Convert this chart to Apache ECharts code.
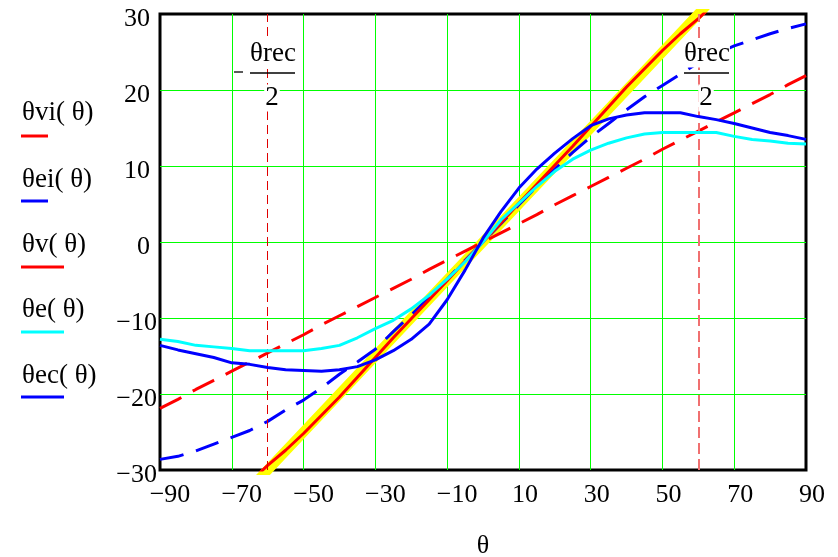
<!DOCTYPE html>
<html><head><meta charset="utf-8">
<style>html,body{margin:0;padding:0;background:#fff}#c{width:838px;height:557px}</style>
<script src="https://cdn.jsdelivr.net/npm/echarts@6.0.0/dist/echarts.min.js"></script>
</head><body><div id="c"></div>
<script>
// ---- data ----
const theta = [-90,-85,-80,-75,-70,-65,-60,-55,-50,-45,-40,-35,-30,-25,-20,-15,-10,-5,0,5,10,15,20,25,30,35,40,45,50,55,60,65,70,75,80,85,90];
const thetaVI = [-21.9,-20.7,-19.4,-18.2,-17.0,-15.8,-14.6,-13.4,-12.2,-10.9,-9.7,-8.5,-7.3,-6.1,-4.9,-3.6,-2.4,-1.2,0,1.2,2.4,3.6,4.9,6.1,7.3,8.5,9.7,10.9,12.2,13.4,14.6,15.8,17.0,18.2,19.4,20.7,21.9];
const thetaEI = [-28.6,-28.2,-27.5,-26.6,-25.7,-24.8,-23.6,-22.1,-20.8,-19.2,-17.4,-15.8,-14.1,-11.8,-9.6,-7.3,-4.9,-2.4,0,2.4,4.9,7.3,9.6,11.8,13.8,15.6,17.4,19.1,20.6,22.1,23.6,24.8,25.8,26.6,27.4,28.1,28.7];
const thetaE = [-12.8,-13.1,-13.6,-13.8,-14.0,-14.3,-14.3,-14.3,-14.3,-14.0,-13.6,-12.6,-11.4,-10.3,-8.8,-7.0,-4.9,-2.6,0,2.9,5.1,7.3,9.3,10.9,12.1,13.0,13.7,14.2,14.4,14.4,14.4,14.4,13.9,13.5,13.3,13.0,12.9];
const thetaEC = [-13.6,-14.2,-14.7,-15.2,-15.9,-16.1,-16.5,-16.8,-16.9,-17.0,-16.8,-16.4,-15.5,-14.3,-12.8,-10.8,-7.6,-3.7,0.5,4.0,7.1,9.6,11.7,13.6,15.3,16.2,16.7,17.0,17.0,17.0,16.5,16.1,15.6,15.0,14.4,14.0,13.5];
const thetaMid = [-65,-60,-55,-50,-45,-40,-35,-30,-25,-20,-15,-10,-5,0,5,10,15,20,25,30,35,40,45,50,55,60,65];
const thetaV = [-31.6,-29.4,-27.4,-25.2,-22.8,-20.4,-17.8,-15.2,-12.6,-10.1,-7.6,-5.1,-2.5,0,2.5,5.1,7.6,10.1,12.6,15.2,17.8,20.4,22.8,25.2,27.4,29.4,31.6];
const thetaRef = [-32.5,-30,-27.5,-25,-22.5,-20,-17.5,-15,-12.5,-10,-7.5,-5,-2.5,0,2.5,5,7.5,10,12.5,15,17.5,20,22.5,25,27.5,30,32.5];
const recHalf = [-60, 60];
const xTicks = [-90,-70,-50,-30,-10,10,30,50,70,90];
const yTicks = [-30,-20,-10,0,10,20,30];
const legendNames = ['θvi( θ)','θei( θ)','θv( θ)','θe( θ)','θec( θ)'];

// ---- chart ----
const FONT = '"Liberation Serif", "Times New Roman", serif';
const pair = (xs, ys) => xs.map((x, i) => [x, ys[i]]);
const minus = v => String(v).replace('-', '\u2212');
const chart = echarts.init(document.getElementById('c'), null, {renderer: 'canvas'});

const legendColors = ['#ff0000', '#0000ff', '#ff0000', '#00ffff', '#0000ff'];
const legendTextY = [113, 180, 245, 310, 376];
const legendLineY = [136, 201, 267, 332, 397];
const legendLineEnd = [48, 48, 64, 64, 64];
const graphics = [];
legendNames.forEach((n, i) => {
  graphics.push({type: 'text', x: 22, y: legendTextY[i], z: 10,
    style: {text: n, font: '27px ' + FONT, fill: '#000', verticalAlign: 'middle'}});
  graphics.push({type: 'line', z: 10, shape: {x1: 21, y1: legendLineY[i], x2: legendLineEnd[i], y2: legendLineY[i]},
    style: {stroke: legendColors[i], lineWidth: 3}});
});
// theta_rec / 2 annotations
function frac(cx, withMinus) {
  graphics.push({type: 'text', z: 10, x: cx, y: 54,
    style: {text: 'θrec', font: '27px ' + FONT, fill: '#000', align: 'center', verticalAlign: 'middle', backgroundColor: '#fff'}});
  graphics.push({type: 'line', z: 11, shape: {x1: cx - 23, y1: 73, x2: cx + 22, y2: 73}, style: {stroke: '#000', lineWidth: 1.3}});
  graphics.push({type: 'text', z: 10, x: cx - 1, y: 98,
    style: {text: '2', font: '27px ' + FONT, fill: '#000', align: 'center', verticalAlign: 'middle', backgroundColor: '#fff', padding: [0, 1]}});
  if (withMinus) graphics.push({type: 'line', z: 11, shape: {x1: 234, y1: 72, x2: 243, y2: 72}, style: {stroke: '#000', lineWidth: 1.3}});
}
frac(273, true);
frac(707, false);

const axisFont = {fontFamily: FONT, fontSize: 26, color: '#000'};
const option = {
  animation: false,
  backgroundColor: '#fff',
  grid: {left: 160, right: 32, top: 14, bottom: 87, show: true, borderColor: '#000', borderWidth: 3,
    containLabel: false, outerBoundsMode: 'none'},
  xAxis: {
    type: 'value', min: xTicks[0], max: xTicks[xTicks.length - 1], interval: 20,
    axisLine: {show: false}, axisTick: {show: false},
    splitLine: {show: true, showMinLine: false, showMaxLine: false, lineStyle: {color: '#00ff00', width: 1}},
    axisLabel: {margin: 12, formatter: v => v < 0 ? '{n|' + minus(v) + '}' : '{p|' + v + '}',
      rich: {n: Object.assign({padding: [0, 0, 0, 20]}, axisFont), p: Object.assign({padding: [0, 0, 0, 12]}, axisFont)}},
    name: 'θ', nameLocation: 'middle', nameGap: 63, nameTextStyle: axisFont
  },
  yAxis: {
    type: 'value', min: yTicks[0], max: yTicks[yTicks.length - 1], interval: 10,
    axisLine: {show: false}, axisTick: {show: false},
    splitLine: {show: true, showMinLine: false, showMaxLine: false, lineStyle: {color: '#00ff00', width: 1}},
    axisLabel: {margin: 3, align: 'right', formatter: v => v < 0 ? '{n|' + minus(v) + '}' : '{p|' + v + '}',
      rich: {n: Object.assign({padding: [10, 0, 0, 0]}, axisFont), p: Object.assign({padding: [10, 7, 0, 0]}, axisFont)}}
  },
  series: [
    {type: 'line', name: 'ref', data: pair(thetaMid, thetaRef), symbol: 'none', clip: true, z: 2,
      lineStyle: {color: '#ffff00', width: 10}},
    {type: 'line', name: 'θvi', data: pair(theta, thetaVI), symbol: 'none', clip: true, z: 3,
      lineStyle: {color: '#ff0000', width: 3, type: [24, 13]},
      markLine: {silent: true, symbol: 'none', label: {show: false},
        data: [
          {xAxis: recHalf[0], lineStyle: {color: '#e00000', width: 1, type: [9, 5]}},
          {xAxis: recHalf[1], lineStyle: {color: '#f07070', width: 2, type: [11, 5]}}
        ]}},
    {type: 'line', name: 'θei', data: pair(theta, thetaEI), symbol: 'none', clip: true, z: 3,
      lineStyle: {color: '#0000ff', width: 3, type: [24, 13]}},
    {type: 'line', name: 'θv', data: pair(thetaMid, thetaV), symbol: 'none', clip: true, z: 4,
      lineStyle: {color: '#ff0000', width: 3}},
    {type: 'line', name: 'θe', data: pair(theta, thetaE), symbol: 'none', clip: true, z: 5,
      lineStyle: {color: '#00ffff', width: 3}},
    {type: 'line', name: 'θec', data: pair(theta, thetaEC), symbol: 'none', clip: true, z: 6,
      lineStyle: {color: '#0000ff', width: 3}}
  ],
  graphic: graphics
};
chart.setOption(option);
</script></body></html>
